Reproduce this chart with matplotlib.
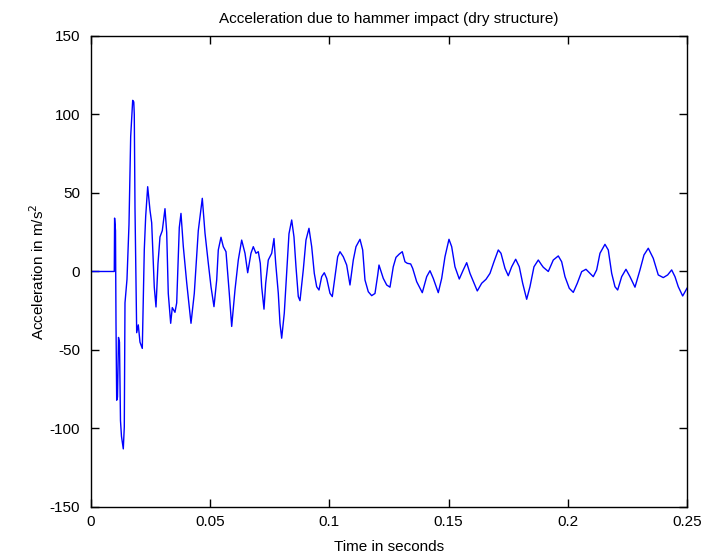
import numpy as np
import matplotlib
matplotlib.use('Agg')
import matplotlib.pyplot as plt

plt.rcParams['font.family'] = ['Liberation Sans', 'DejaVu Sans']
plt.rcParams['axes.unicode_minus'] = False

# time (s) and acceleration (m/s^2)
t = [0.0, 0.00977, 0.0099, 0.01028, 0.01049, 0.01078, 0.01112, 0.01154, 0.01195,
     0.01237, 0.01279, 0.01355, 0.01397, 0.01426, 0.01510, 0.01594, 0.01665,
     0.01749, 0.01795, 0.01816, 0.01846, 0.01917, 0.01984, 0.02055, 0.02152,
     0.02236, 0.02294, 0.02378, 0.02475, 0.02546, 0.02655, 0.02727, 0.02810,
     0.02894, 0.02991, 0.03104, 0.03175, 0.03242, 0.03343, 0.03410, 0.03523,
     0.03595, 0.03704, 0.03775, 0.03872, 0.04014, 0.04195, 0.04333, 0.04501,
     0.04669, 0.04782, 0.04920, 0.05034, 0.05159, 0.05273, 0.05340, 0.05453,
     0.05550, 0.05663, 0.05734, 0.05801, 0.05902, 0.06040, 0.06179, 0.06321,
     0.06460, 0.06573, 0.06711, 0.06808, 0.06921, 0.07018, 0.07102, 0.07160,
     0.07257, 0.07328, 0.07437, 0.07580, 0.07676, 0.07748, 0.07857, 0.07928,
     0.07999, 0.08108, 0.08209, 0.08305, 0.08419, 0.08515, 0.08599, 0.08696,
     0.08767, 0.08905, 0.09018, 0.09144, 0.09258, 0.09367, 0.09467, 0.09564,
     0.09677, 0.09786, 0.09887, 0.10025, 0.10122, 0.10235, 0.10348, 0.10445,
     0.10583, 0.10726, 0.10864, 0.11003, 0.11116, 0.11284, 0.11397, 0.11493,
     0.11632, 0.11774, 0.11913, 0.12030, 0.12081, 0.12261, 0.12404, 0.12542,
     0.12680, 0.12794, 0.12932, 0.13058, 0.13171, 0.13268, 0.13410, 0.13494,
     0.13662, 0.13897, 0.14082, 0.14220, 0.14358, 0.14568, 0.14711, 0.14849,
     0.15017, 0.15130, 0.15268, 0.15449, 0.15617, 0.15760, 0.15898, 0.16204,
     0.16389, 0.16569, 0.16737, 0.16904, 0.17085, 0.17198, 0.17366, 0.17504,
     0.17647, 0.17815, 0.17966, 0.18108, 0.18276, 0.18414, 0.18582, 0.18763,
     0.18905, 0.18973, 0.19183, 0.19392, 0.19602, 0.19744, 0.19883, 0.20063,
     0.20231, 0.20399, 0.20583, 0.20763, 0.20931, 0.21069, 0.21212, 0.21351,
     0.21560, 0.21699, 0.21842, 0.21980, 0.22093, 0.22261, 0.22441, 0.22609,
     0.22819, 0.23029, 0.23196, 0.23377, 0.23586, 0.23796, 0.24006, 0.24190,
     0.24358, 0.24497, 0.24635, 0.24820, 0.25]

acc = [0.0, 0.0, 34, 26, -33, -82, -80, -42, -45,
       -95, -105, -113, -99, -20, -5, 30, 86,
       109, 108, 100, 40, -39, -34, -45, -49,
       14, 35, 54, 39, 31, -10, -22.6, 5,
       22, 26, 40, 25, -14, -33, -23, -26,
       -20, 28, 37, 16, -7, -33, -14, 26,
       46.6, 24.5, 5.4, -9.7, -22.4, -5.4, 13.7, 21.8,
       15.8, 12.6, -1.2, -13.9, -35, -11.8, 7.3, 20,
       11.6, -0.8, 11.6, 15.8, 11.6, 12.6, 5.2, -9.7,
       -24, -7.5, 7.3, 11.6, 21, 5.2, -13.9, -33,
       -42.5, -26.6, -1.2, 24, 32.8, 22, 3, -16,
       -18.6, 1, 20, 27.5, 15.8, -1.2, -9.7, -11.8,
       -3.3, -0.8, -4.4, -13.9, -16, -3.3, 9.4, 12.6,
       9.4, 4.1, -8.6, 7.3, 15.8, 20.5, 13.7, -5.4,
       -12.9, -15.4, -14, -2, 4.1, -4.4, -8.6, -10,
       3, 9, 11.1, 12.6, 6.2, 5.2, 4.8, 2,
       -6.5, -13.5, -3.3, 0.5, -4.4, -13.5, -4.4, 9.4,
       20.5, 15.8, 3, -4.8, 1, 5.6, -1.2, -12.4,
       -7.5, -5, -1.2, 6.2, 13.7, 11.6, 2, -2.7,
       3, 7.8, 3, -7.5, -17.7, -9.7, 3, 7.3,
       4.1, 2.7, 0, 7.3, 9.9, 6.2, -3.3, -10.7,
       -13.3, -7.5, -0.1, 1.4, -1.2, -3.3, 1, 11.6,
       17.3, 13.7, -1.2, -9.7, -11.8, -3.3, 1.4, -3.3,
       -10, 1, 10.5, 14.8, 8.4, -2.2, -3.9, -2.2,
       1, -3.3, -9.7, -15.6, -10.7]

xticks = [0, 0.05, 0.1, 0.15, 0.2, 0.25]
xlabels = ['0', '0.05', '0.1', '0.15', '0.2', '0.25']
yticks = [-150, -100, -50, 0, 50, 100, 150]

fig = plt.figure(figsize=(7.21, 5.57), dpi=100)
ax = fig.add_axes([0.1262, 0.0898, 0.8266, 0.8456])
ax.plot(t, acc, color='#0000ff', lw=1.0)

ax.set_xlim(0, 0.25)
ax.set_ylim(-150, 150)
ax.set_xticks(xticks)
ax.set_xticklabels(xlabels)
ax.set_yticks(yticks)
ax.tick_params(direction='in', top=True, right=True, length=6, width=1,
               labelsize=11)
ax.tick_params(axis='x', pad=6)
ax.tick_params(axis='y', pad=8)
for s in ax.spines.values():
    s.set_linewidth(1.0)

ax.set_title('Acceleration due to hammer impact (dry structure)', fontsize=11, pad=9)
ax.set_xlabel('Time in seconds', fontsize=11, labelpad=8)
ax.set_ylabel('Acceleration in m/s$^2$', fontsize=11, labelpad=2)

fig.savefig('out.png', dpi=100)
